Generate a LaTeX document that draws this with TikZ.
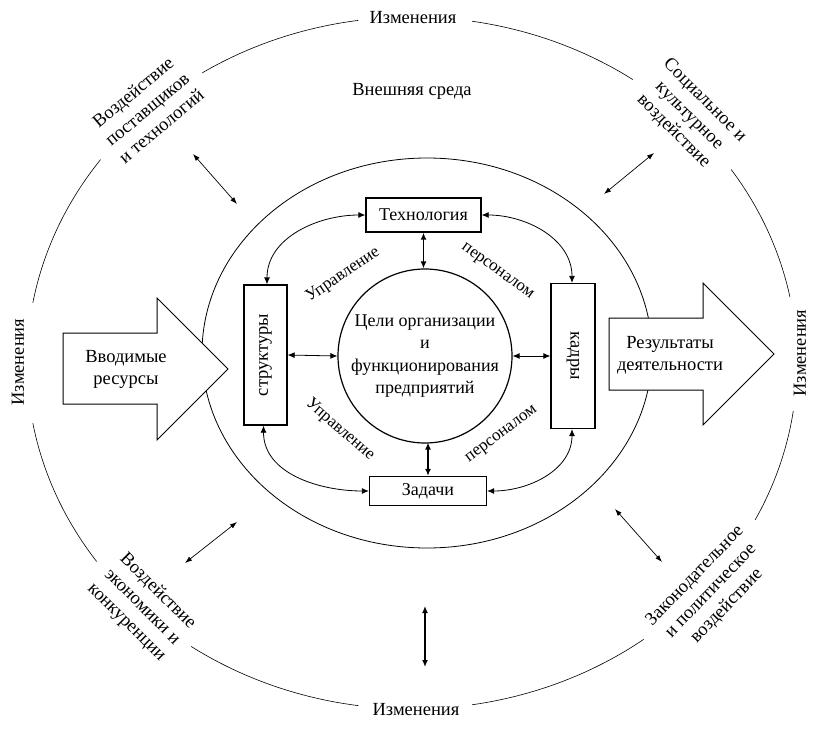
\documentclass[tikz,border=0pt]{standalone}
\usepackage{fontspec}
\setmainfont{Liberation Serif}
\usetikzlibrary{arrows.meta}
\begin{document}
\begin{tikzpicture}[x=1pt,y=-1pt,
  txt/.style={font=\fontsize{18.5}{22}\selectfont, align=center, inner sep=1pt},
  smalltxt/.style={font=\fontsize{17}{19}\selectfont, inner sep=1pt},
  boxnode/.style={draw, line width=1.3pt, inner sep=0pt, font=\fontsize{18}{21}\selectfont},
  outerline/.style={line width=0.6pt},
  midline/.style={line width=0.8pt},
  bigarrow/.style={draw, line width=1pt, fill=white, line join=miter},
  tip/.style={{Latex[length=7pt,width=6pt]}-{Latex[length=7pt,width=6pt]}},
  curvedarrow/.style={tip, line width=0.8pt},
  thickarrow/.style={tip, line width=1.4pt},
  thinarrow/.style={{Latex[length=7pt,width=5pt]}-{Latex[length=7pt,width=5pt]}, line width=0.7pt}
]
\useasboundingbox[fill=white] (0,0) rectangle (822,731);

% outer ellipse (arcs between the labels)
\coordinate (O) at (412,363);
\foreach \a/\b in {11/34,55/81,98/123,144/170,190/215,235/262,279/307,333/352}
  \draw[outerline] (O) ++(-\a:385 and 346) arc[start angle=-\a, end angle=-\b, x radius=385, y radius=346];

% middle ellipse
\draw[midline] (427,353) ellipse [x radius=225, y radius=195];

% big arrows
\draw[bigarrow] (63,333) -- (157,333) -- (157,298) -- (228,369) -- (157,440) -- (157,404) -- (63,404) -- cycle;
\node[txt] (input) at (126,369) {Вводимые\\ресурсы};
\draw[bigarrow] (609,318) -- (703,318) -- (703,283) -- (774,354) -- (703,425) -- (703,390) -- (609,390) -- cycle;
\node[txt] (output) at (670,355) {Результаты\\деятельности};

% central circle
\node[draw, circle, line width=1.2pt, minimum size=174pt, inner sep=0pt] (goal) at (425,356) {};
\node[txt, font=\fontsize{18}{22.5}\selectfont] (goaltext) at (425,356) {Цели организации\\и\\функционирования\\предприятий};

% boxes
\node[boxnode, minimum width=115pt, minimum height=34pt] (tech) at (423.5,215) {Технология};
\node[boxnode, minimum width=117pt, minimum height=29pt] (task) at (428,491) {Задачи};
\node[boxnode, minimum width=43pt, minimum height=140pt] (struct) at (265.5,355) {};
\node[txt, rotate=90, font=\fontsize{18.5}{21}\selectfont] (structtext) at (struct.center) {структуры};
\node[boxnode, minimum width=44pt, minimum height=145pt] (kadry) at (573,356) {};
\node[txt, rotate=-90, font=\fontsize{18.5}{21}\selectfont] (kadrytext) at (kadry.center) {кадры};

% straight arrows to the goal
\draw[thickarrow] (tech.south) -- (tech.south |- goal.north);
\draw[thickarrow] (task.north) -- ([yshift=1pt]task.north |- goal.south);
\draw[curvedarrow] (struct.east) -- (goal.west);
\draw[curvedarrow] (goal.east) -- (kadry.west);

% curved arrows between boxes
\draw[curvedarrow] (tech.west) to[out=180, in=90] ([xshift=1.5pt]struct.north);
\draw[curvedarrow] (tech.east) to[out=0, in=90] ([xshift=-1pt]kadry.north);
\draw[curvedarrow] ([xshift=-2pt]struct.south) to[out=-90, in=180] (task.west);
\draw[curvedarrow] ([xshift=-1pt]kadry.south) to[out=-90, in=0] (task.east);

% labels on curved arrows
\node[smalltxt, rotate=34] (m1) at (343,275) {Управление};
\node[smalltxt, rotate=-36] (p1) at (497,272) {персоналом};
\node[smalltxt, rotate=-41] (m2) at (340,430) {Управление};
\node[smalltxt, rotate=37] (p2) at (502,435) {персоналом};

% environment labels
\node[txt] (env) at (412,91) {Внешняя среда};
\node[txt] (chtop) at (413,18) {Изменения};
\node[txt] (chbot) at (416,710) {Изменения};
\node[txt, rotate=90] (chleft) at (18,362) {Изменения};
\node[txt, rotate=90] (chright) at (800,353) {Изменения};

\node[txt, rotate=40] (suppl) at (147,109) {Воздействие\\поставщиков\\и технологий};
\node[txt, rotate=-45] (social) at (689,116) {Социальное и\\культурное\\воздействие};
\node[txt, rotate=-45] (econ) at (142,607) {Воздействие\\экономики и\\конкуренции};
\node[txt, rotate=46] (legal) at (711,591) {Законодательное\\и политическое\\воздействие};

% interaction arrows
\coordinate (a1) at (193,154); \coordinate (a2) at (237,204);
\draw[thinarrow] (a1) -- (a2);
\coordinate (b1) at (654,153); \coordinate (b2) at (604,194);
\draw[thinarrow] (b1) -- (b2);
\coordinate (c1) at (237,522); \coordinate (c2) at (185,563);
\draw[thinarrow] (c1) -- (c2);
\coordinate (d1) at (615,509); \coordinate (d2) at (662,562);
\draw[thinarrow] (d1) -- (d2);
\coordinate (e1) at (425,606); \coordinate (e2) at (425,667);
\draw[thickarrow] (e1) -- (e2);
\end{tikzpicture}
\end{document}
